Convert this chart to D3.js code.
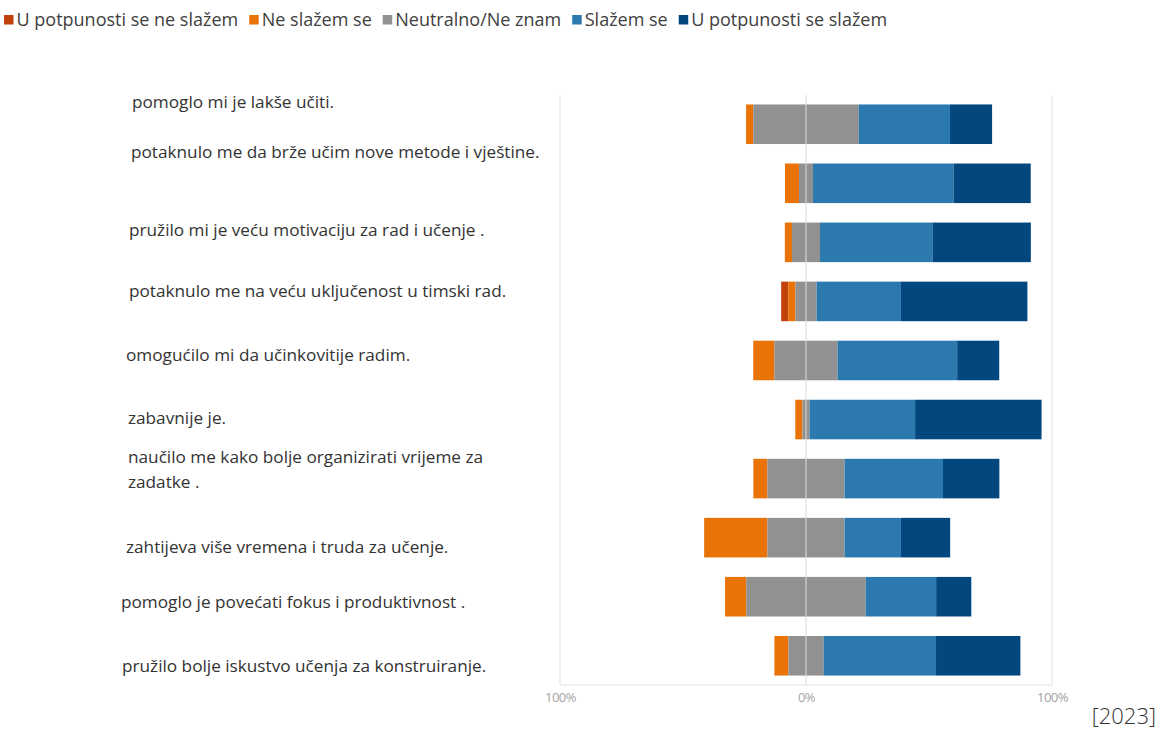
<!DOCTYPE html>
<html>
<head>
<meta charset="utf-8">
<script src="https://cdn.jsdelivr.net/npm/d3@7"></script>
<style>
  html, body { margin: 0; padding: 0; background: #ffffff; }
  svg { display: block; }
</style>
</head>
<body>
<div id="chart"></div>
<script>
// ---------- DATA ----------
const categories = [
  "pomoglo mi je lakše učiti.",
  "potaknulo me da brže učim nove metode i vještine.",
  "pružilo mi je veću motivaciju za rad i učenje .",
  "potaknulo me na veću uključenost u timski rad.",
  "omogućilo mi da učinkovitije radim.",
  "zabavnije je.",
  "naučilo me kako bolje organizirati vrijeme za|zadatke .",
  "zahtijeva više vremena i truda za učenje.",
  "pomoglo je povećati fokus i produktivnost .",
  "pružilo bolje iskustvo učenja za konstruiranje."
];
const seriesNames = ["U potpunosti se ne slažem", "Ne slažem se", "Neutralno/Ne znam", "Slažem se", "U potpunosti se slažem"];
// percentages per category
const stronglyDisagree = [0, 0, 0, 2.9, 0, 0, 0, 0, 0, 0];
const disagree         = [2.9, 5.7, 2.9, 2.9, 8.6, 2.9, 5.7, 25.7, 8.6, 5.7];
const neutral          = [42.9, 5.7, 11.4, 8.6, 25.7, 2.9, 31.4, 31.4, 48.6, 14.3];
const agree            = [37.1, 57.1, 45.7, 34.3, 48.6, 42.9, 40.0, 22.9, 28.6, 45.7];
const stronglyAgree    = [17.1, 31.4, 40.0, 51.4, 17.1, 51.4, 22.9, 20.0, 14.3, 34.3];
const tickValues = [-100, 0, 100];
const tickLabels = ["100%", "0%", "100%"];
const yearNote = "[2023]";

// ---------- LAYOUT / STYLE ----------
const W = 1162, H = 730;
const colors = ["#c2410c", "#e97306", "#919191", "#2c79b0", "#03477f"];
const labelNudge = [-22, -31, -12, -10, -5, -2, -9, 9, 5, 10];
const labelX = [132, 131, 129, 129, 126, 128, 128, 126, 121, 122];

const svg = d3.select("#chart").append("svg").attr("width", W).attr("height", H);

const x = d3.scaleLinear().domain([-100, 100]).range([560, 1052]);
const y = d3.scaleBand().domain(d3.range(categories.length)).range([95, 685]).paddingInner(0.33).paddingOuter(0.16);

// gridlines/frame
const g = svg.append("g");
g.selectAll("line.grid").data([-100, 100]).join("line")
  .attr("x1", d => x(d)).attr("x2", d => x(d))
  .attr("y1", 95).attr("y2", 685)
  .attr("stroke", "#ebebeb").attr("stroke-width", 1.5);
g.append("line").attr("x1", x(-100)).attr("x2", x(100)).attr("y1", 685).attr("y2", 685)
  .attr("stroke", "#ebebeb").attr("stroke-width", 1.5);

// stacked rows
const seriesData = [stronglyDisagree, disagree, neutral, agree, stronglyAgree];
const rows = categories.map((c, i) => {
  const vals = seriesData.map(s => s[i]);
  let start = -(vals[0] + vals[1] + vals[2] / 2);
  return vals.map((v, k) => { const seg = { i, k, x0: start, x1: start + v }; start += v; return seg; });
});

g.selectAll("g.row").data(rows).join("g").attr("class", "row")
  .selectAll("rect").data(d => d.filter(s => s.x1 - s.x0 > 0)).join("rect")
  .attr("x", d => x(d.x0))
  .attr("width", d => x(d.x1) - x(d.x0))
  .attr("y", d => y(d.i))
  .attr("height", y.bandwidth())
  .attr("fill", d => colors[d.k]);

// zero line on top
g.append("line").attr("x1", x(0)).attr("x2", x(0)).attr("y1", 95).attr("y2", 685)
  .attr("stroke", "#dcdcdc").attr("stroke-opacity", 0.7).attr("stroke-width", 1.5);

// axis labels
const axis = d3.axisBottom(x).tickValues(tickValues).tickFormat((d, i) => tickLabels[i]).tickSize(0);
const ax = svg.append("g").attr("transform", "translate(0,690)").call(axis);
ax.select(".domain").remove();
ax.selectAll("text").attr("fill", "#a3a3a3").attr("font-family", "Open Sans, sans-serif").attr("font-size", 13).attr("letter-spacing", -0.5);

// category labels
const lab = svg.append("g").attr("font-family", "Open Sans, sans-serif").attr("font-size", 17.2).attr("fill", "#333");
categories.forEach((c, i) => {
  const lines = c.split("|");
  const cy = y(i) + y.bandwidth() / 2 + labelNudge[i];
  const t = lab.append("text").attr("x", labelX[i]).attr("y", cy - (lines.length - 1) * 12.5);
  lines.forEach((ln, j) => {
    t.append("tspan").attr("x", labelX[i]).attr("dy", j === 0 ? "0.35em" : 25).text(ln);
  });
});

// legend
const leg = svg.append("g").attr("font-family", "Open Sans, sans-serif").attr("font-size", 18).attr("fill", "#404040");
let lx = 4;
seriesNames.forEach((n, k) => {
  leg.append("rect").attr("x", lx).attr("y", 15).attr("width", 9.5).attr("height", 9.5).attr("fill", colors[k]);
  const t = leg.append("text").attr("x", lx + 12.5).attr("y", 20).attr("dy", "0.35em").text(n);
  lx += 12.5 + t.node().getComputedTextLength() + 11;
});

// year note
svg.append("text").attr("x", 1156).attr("y", 716).attr("dy", "0.35em").attr("text-anchor", "end")
  .attr("font-family", "Open Sans, sans-serif").attr("font-weight", 300).attr("font-size", 22).attr("fill", "#333")
  .text(yearNote);
</script>
</body>
</html>
